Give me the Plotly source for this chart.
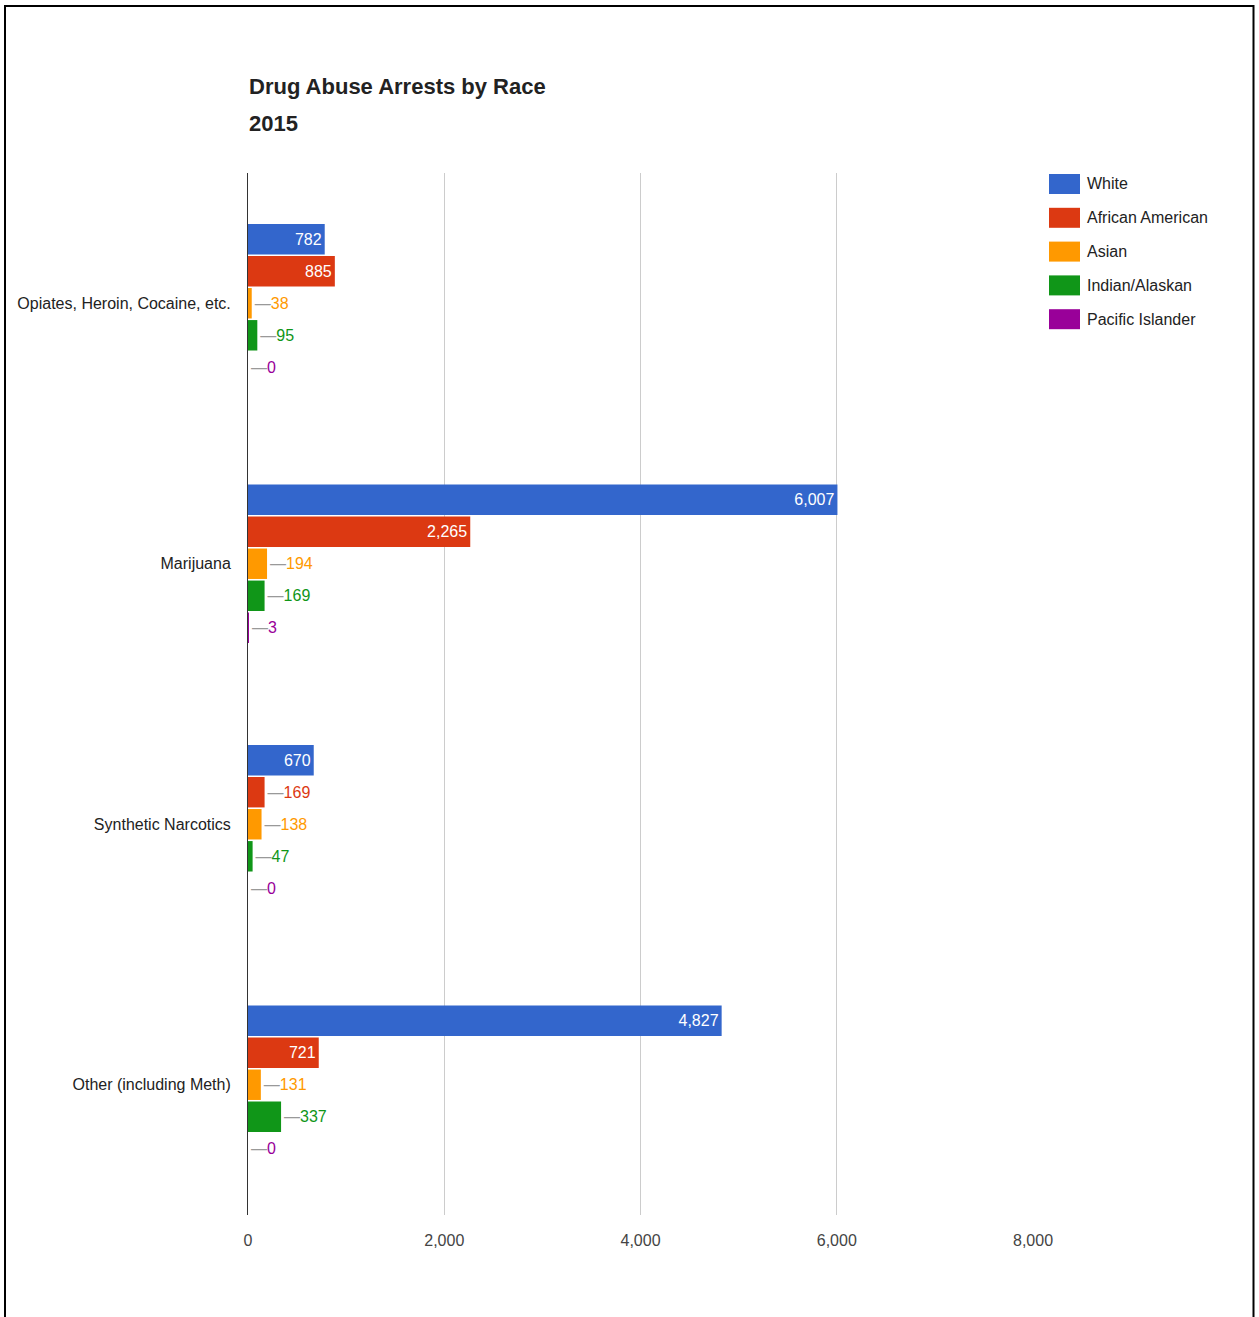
import plotly.graph_objects as go

categories = ["Opiates, Heroin, Cocaine, etc.", "Marijuana", "Synthetic Narcotics", "Other (including Meth)"]
series_names = ["White", "African American", "Asian", "Indian/Alaskan", "Pacific Islander"]
white = [782, 6007, 670, 4827]
african_american = [885, 2265, 169, 721]
asian = [38, 194, 138, 131]
indian_alaskan = [95, 169, 47, 337]
pacific_islander = [0, 3, 0, 0]
colors = ["#3366cc", "#dc3912", "#ff9900", "#109618", "#990099"]
x_ticks = [0, 2000, 4000, 6000, 8000]
title_lines = ["Drug Abuse Arrests by Race", "2015"]

series_values = [white, african_american, asian, indian_alaskan, pacific_islander]

W, H = 1259, 1317
L, R, T, B = 248, 1033, 173, 1215
FONT = "Liberation Sans, Arial, sans-serif"

def px_x(p):
    return (p - L) / (R - L)

def px_y(p):
    return (B - p) / (B - T)

fig = go.Figure()
for name, vals, col in zip(series_names, series_values, colors):
    texts, positions = [], []
    for v in vals:
        if v >= 400:
            texts.append(f"{v:,}")
            positions.append("inside")
        else:
            texts.append(f'<span style="color:#999999">—</span>{v:,}')
            positions.append("outside")
    fig.add_trace(go.Bar(
        y=categories, x=vals, name=name, orientation="h",
        marker=dict(color=col, line=dict(width=0)),
        text=texts, textposition=positions,
        insidetextanchor="end",
        insidetextfont=dict(color="white", size=16, family=FONT),
        outsidetextfont=dict(color=col, size=16, family=FONT),
        cliponaxis=False,
        showlegend=False,
    ))

shapes = []
annotations = []
# title
for i, line in enumerate(title_lines):
    annotations.append(dict(xref="paper", yref="paper", x=px_x(247), y=px_y(86 + 38 * i),
                            text=f"<b>{line}</b>", showarrow=False, xanchor="left", yanchor="middle",
                            font=dict(size=22, color="#222222", family=FONT)))
# custom legend
for i, (name, col) in enumerate(zip(series_names, colors)):
    yc = 184 + i * 33.8
    shapes.append(dict(type="rect", xref="paper", yref="paper",
                       x0=px_x(1049), x1=px_x(1080), y0=px_y(yc - 10), y1=px_y(yc + 10),
                       fillcolor=col, line=dict(width=0)))
    annotations.append(dict(xref="paper", yref="paper", x=px_x(1085), y=px_y(yc),
                            text=name, showarrow=False, xanchor="left", yanchor="middle",
                            font=dict(size=16, color="#222222", family=FONT)))
# frame
shapes.append(dict(type="rect", xref="paper", yref="paper",
                   x0=px_x(5), x1=px_x(1253.5), y0=px_y(1340), y1=px_y(6),
                   line=dict(color="black", width=2), fillcolor="rgba(0,0,0,0)"))

fig.update_layout(
    width=W, height=H,
    margin=dict(l=L, r=W - R, t=T, b=H - B, autoexpand=False),
    paper_bgcolor="white", plot_bgcolor="white",
    barmode="group", bargap=0.385, bargroupgap=0.05,
    font=dict(family=FONT, size=16, color="#222222"),
    xaxis=dict(range=[0, 8000], tickvals=x_ticks, tickformat=",",
               showgrid=True, gridcolor="#cccccc", gridwidth=1,
               zeroline=False, showline=False, ticks="", automargin=False,
               ticklabelstandoff=14,
               tickfont=dict(size=16, color="#444444", family=FONT)),
    yaxis=dict(autorange="reversed", showline=True, linecolor="#333333", linewidth=1,
               ticks="", ticklabelstandoff=13, automargin=False,
               tickfont=dict(size=16, color="#222222", family=FONT)),
    shapes=shapes, annotations=annotations,
)

fig.write_html("out.html", config={"displayModeBar": False},
               post_script="document.body.style.margin='0';document.body.style.overflow='hidden';")
